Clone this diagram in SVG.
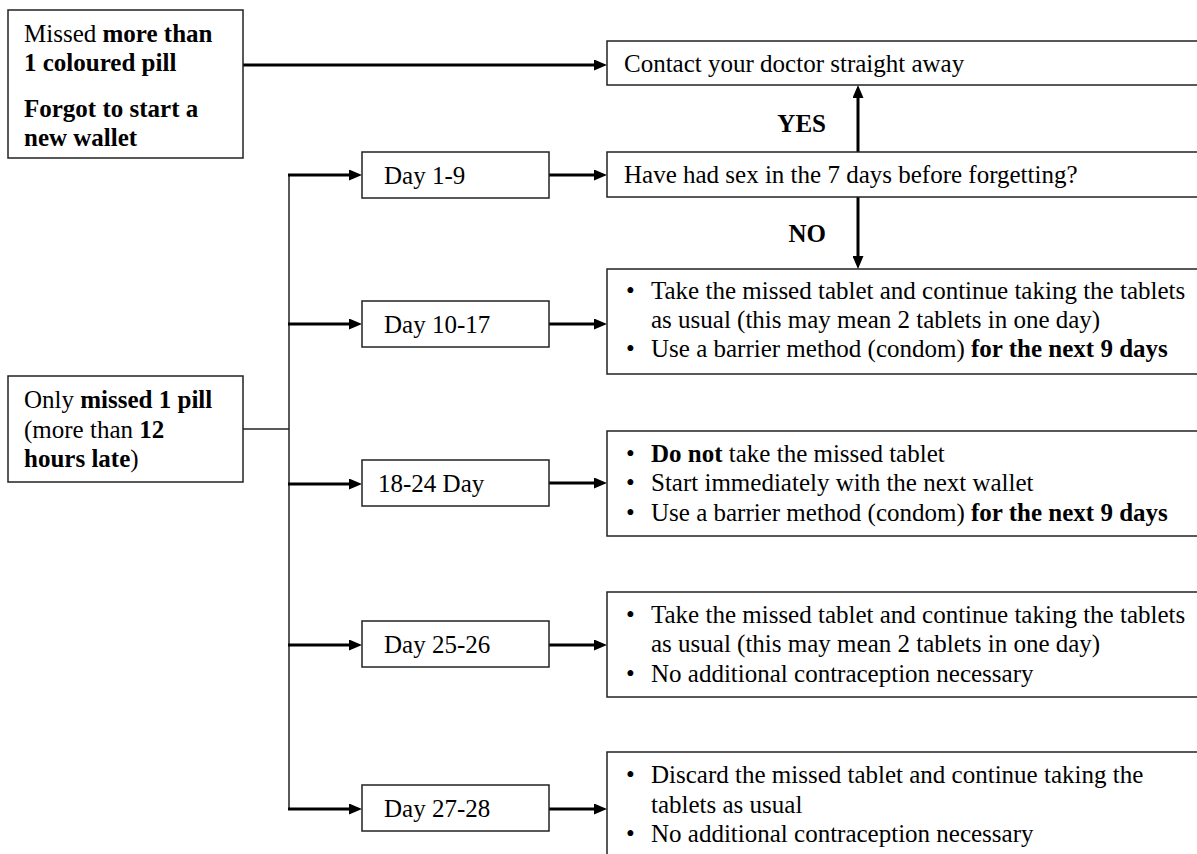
<svg xmlns="http://www.w3.org/2000/svg" width="1197" height="854" viewBox="0 0 1197 854">
<style>
  text { font-family: "Liberation Serif", "Times New Roman", serif; font-size: 25px; fill: #000; }
  .b { font-weight: bold; }
  .box { fill: #fff; stroke: #222; stroke-width: 1.5; }
  .thin { fill: none; stroke: #222; stroke-width: 1.5; }
  .arr { fill: none; stroke: #000; stroke-width: 3; marker-end: url(#ah); }
</style>
<defs>
  <marker id="ah" markerUnits="userSpaceOnUse" markerWidth="13" markerHeight="11" viewBox="0 0 13 11" refX="7" refY="5.5" orient="auto">
    <path d="M0,0 L13,5.5 L0,11 z" fill="#000"/>
  </marker>
</defs>
<rect width="1197" height="854" fill="#fff"/>

<g id="connectors">
  <line class="arr" x1="243" y1="65" x2="601" y2="65"/>
  <line class="thin" x1="243" y1="429" x2="289" y2="429"/>
  <line class="thin" x1="289" y1="175" x2="289" y2="809"/>
  <line class="arr" x1="288" y1="175" x2="356" y2="175"/>
  <line class="arr" x1="288" y1="324" x2="356" y2="324"/>
  <line class="arr" x1="288" y1="484" x2="356" y2="484"/>
  <line class="arr" x1="288" y1="645" x2="356" y2="645"/>
  <line class="arr" x1="288" y1="809" x2="356" y2="809"/>
  <line class="arr" x1="549" y1="175" x2="601" y2="175"/>
  <line class="arr" x1="549" y1="324" x2="601" y2="324"/>
  <line class="arr" x1="549" y1="483" x2="601" y2="483"/>
  <line class="arr" x1="549" y1="645" x2="601" y2="645"/>
  <line class="arr" x1="549" y1="809" x2="601" y2="809"/>
  <line class="arr" x1="858" y1="152" x2="858" y2="91"/>
  <line class="arr" x1="858" y1="197" x2="858" y2="263"/>
  <text class="b" x="826" y="132" text-anchor="end">YES</text>
  <text class="b" x="826" y="242" text-anchor="end">NO</text>
</g>

<g id="missed-more">
  <rect class="box" x="8" y="10" width="235" height="148"/>
  <text x="24" y="42">Missed <tspan class="b">more than</tspan></text>
  <text class="b" x="24" y="71">1 coloured pill</text>
  <text class="b" x="24" y="117">Forgot to start a</text>
  <text class="b" x="24" y="146">new wallet</text>
</g>

<g id="missed-one">
  <rect class="box" x="8" y="376" width="235" height="106"/>
  <text x="24" y="408">Only <tspan class="b">missed 1 pill</tspan></text>
  <text x="24" y="438">(more than <tspan class="b">12</tspan></text>
  <text x="24" y="467"><tspan class="b">hours late</tspan>)</text>
</g>

<g id="contact-doctor">
  <rect class="box" x="607" y="41" width="640" height="44"/>
  <text x="624" y="72">Contact your doctor straight away</text>
</g>

<g id="had-sex">
  <rect class="box" x="607" y="152" width="640" height="45"/>
  <text x="624" y="183">Have had sex in the 7 days before forgetting?</text>
</g>

<g id="day-1-9">
  <rect class="box" x="362" y="152" width="187" height="46"/>
  <text x="384" y="184">Day 1-9</text>
</g>
<g id="day-10-17">
  <rect class="box" x="362" y="301" width="187" height="46"/>
  <text x="384" y="333">Day 10-17</text>
</g>
<g id="day-18-24">
  <rect class="box" x="362" y="460" width="187" height="46"/>
  <text x="378" y="492">18-24 Day</text>
</g>
<g id="day-25-26">
  <rect class="box" x="362" y="621" width="187" height="46"/>
  <text x="384" y="653">Day 25-26</text>
</g>
<g id="day-27-28">
  <rect class="box" x="362" y="785" width="187" height="46"/>
  <text x="384" y="817">Day 27-28</text>
</g>

<g id="result-10-17">
  <rect class="box" x="607" y="269" width="640" height="105"/>
  <text x="626" y="299">•</text>
  <text x="651" y="299">Take the missed tablet and continue taking the tablets</text>
  <text x="651" y="328">as usual (this may mean 2 tablets in one day)</text>
  <text x="626" y="357">•</text>
  <text x="651" y="357">Use a barrier method (condom) <tspan class="b">for the next 9 days</tspan></text>
</g>

<g id="result-18-24">
  <rect class="box" x="607" y="431" width="640" height="105"/>
  <text x="626" y="462">•</text>
  <text x="651" y="462"><tspan class="b">Do not</tspan> take the missed tablet</text>
  <text x="626" y="491">•</text>
  <text x="651" y="491">Start immediately with the next wallet</text>
  <text x="626" y="521">•</text>
  <text x="651" y="521">Use a barrier method (condom) <tspan class="b">for the next 9 days</tspan></text>
</g>

<g id="result-25-26">
  <rect class="box" x="607" y="592" width="640" height="105"/>
  <text x="626" y="623">•</text>
  <text x="651" y="623">Take the missed tablet and continue taking the tablets</text>
  <text x="651" y="652">as usual (this may mean 2 tablets in one day)</text>
  <text x="626" y="682">•</text>
  <text x="651" y="682">No additional contraception necessary</text>
</g>

<g id="result-27-28">
  <rect class="box" x="607" y="752" width="640" height="140"/>
  <text x="626" y="783">•</text>
  <text x="651" y="783">Discard the missed tablet and continue taking the</text>
  <text x="651" y="813">tablets as usual</text>
  <text x="626" y="842">•</text>
  <text x="651" y="842">No additional contraception necessary</text>
</g>
</svg>
